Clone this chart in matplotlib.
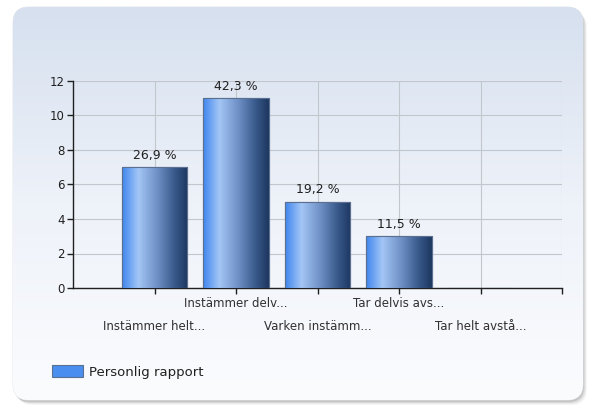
import matplotlib
matplotlib.use("Agg")
import matplotlib.pyplot as plt
import numpy as np
from matplotlib.patches import FancyBboxPatch
from matplotlib.colors import LinearSegmentedColormap

categories = ["Instämmer helt...", "Instämmer delv...", "Varken instämm...",
              "Tar delvis avs...", "Tar helt avstå..."]
values = [7, 11, 5, 3, 0]
series_name = "Personlig rapport"
yticks = [0, 2, 4, 6, 8, 10, 12]

W, H = 594, 407
fig = plt.figure(figsize=(W / 100, H / 100), dpi=100)
fig.patch.set_facecolor("white")

# background card
bg = fig.add_axes([0, 0, 1, 1])
bg.set_xlim(0, W)
bg.set_ylim(H, 0)
bg.axis("off")
cx0, cy0, cx1, cy1 = 13, 7, 583, 400
for i, a in enumerate([0.06, 0.09, 0.13, 0.2]):
    off = 5 - i
    sh = FancyBboxPatch((cx0 + off - 1, cy0 + off), cx1 - cx0, cy1 - cy0,
                        boxstyle="round,pad=0,rounding_size=16",
                        facecolor="#707070", edgecolor="none", alpha=a)
    bg.add_patch(sh)
card = FancyBboxPatch((cx0, cy0), cx1 - cx0, cy1 - cy0,
                      boxstyle="round,pad=0,rounding_size=16",
                      facecolor="white", edgecolor="#e0e4ea", lw=0.6)
bg.add_patch(card)
grad_cmap = LinearSegmentedColormap.from_list("bgc", ["#d6e0ef", "#eef2f9", "#fbfcfe"])
gimg = bg.imshow(np.linspace(0, 1, 256).reshape(-1, 1), cmap=grad_cmap, aspect="auto",
                 extent=(cx0, cx1, cy1, cy0), zorder=1)
gimg.set_clip_path(card)

# main axes
ax = fig.add_axes([73 / W, 1 - 288 / H, (562 - 73) / W, (288 - 81) / H])
ax.patch.set_alpha(0)
ax.set_xlim(0, 6)
ax.set_ylim(0, 12)
x = np.arange(1, len(categories) + 1)

ax.set_yticks(yticks)
ax.set_xticks(list(x) + [6])
ax.set_xticklabels([])
ax.grid(True, color="#c2c6cd", lw=0.8)
ax.set_axisbelow(True)
for s in ["top", "right"]:
    ax.spines[s].set_visible(False)
for s in ["left", "bottom"]:
    ax.spines[s].set_color("#202020")
    ax.spines[s].set_linewidth(1.0)
ax.tick_params(axis="y", length=4, width=1, color="#202020", labelsize=8.5,
               labelcolor="#202020", pad=2)
ax.tick_params(axis="x", length=4, width=1, color="#202020")

bars = ax.bar(x, values, width=0.8, color="#4a8ef0", edgecolor="#5b7090",
              lw=0.8, zorder=3, label=series_name)

bar_cmap = LinearSegmentedColormap.from_list(
    "barc", [(0.0, "#3f86ee"), (0.25, "#a3c6f6"), (0.55, "#6b8dc2"),
             (0.8, "#38598a"), (1.0, "#1d365f")])
grad = np.linspace(0, 1, 256).reshape(1, -1)
for b in bars:
    h = b.get_height()
    if h <= 0:
        continue
    im = ax.imshow(grad, cmap=bar_cmap, aspect="auto",
                   extent=(b.get_x(), b.get_x() + b.get_width(), 0, h), zorder=3.5)
    im.set_clip_path(b)
    ax.add_patch(plt.Rectangle((b.get_x(), 0), b.get_width(), h, fill=False,
                               edgecolor="#5b7090", lw=0.8, zorder=4))

total = sum(values)
labels = [("%.1f %%" % (v / total * 100)).replace(".", ",") if v > 0 else "" for v in values]
for xi, v, lab in zip(x, values, labels):
    if lab:
        ax.annotate(lab, (xi, v), xytext=(0, 4), textcoords="offset points",
                    ha="center", va="bottom", fontsize=9, color="#202020", zorder=5)

# staggered category labels
for i, (xi, c) in enumerate(zip(x, categories)):
    dy = -11.5 if i % 2 == 1 else -27.5
    ax.annotate(c, (xi, 0), xycoords=("data", "axes fraction"), xytext=(0, dy),
                textcoords="offset points", ha="center", va="center",
                fontsize=8.5, color="#303030", annotation_clip=False)

ax.set_xlim(0, 6)
ax.set_ylim(0, 12)

fig.legend(handles=[plt.Rectangle((0, 0), 1, 1, facecolor="#4a8ef0", edgecolor="#5b7090", lw=0.8)],
           labels=[series_name], loc="center left", bbox_to_anchor=(40 / W, 1 - 372 / H),
           frameon=False, fontsize=9.5, handlelength=2.35, handleheight=1.05,
           handletextpad=0.45, labelcolor="#202020")

fig.savefig("out.png", dpi=100)
